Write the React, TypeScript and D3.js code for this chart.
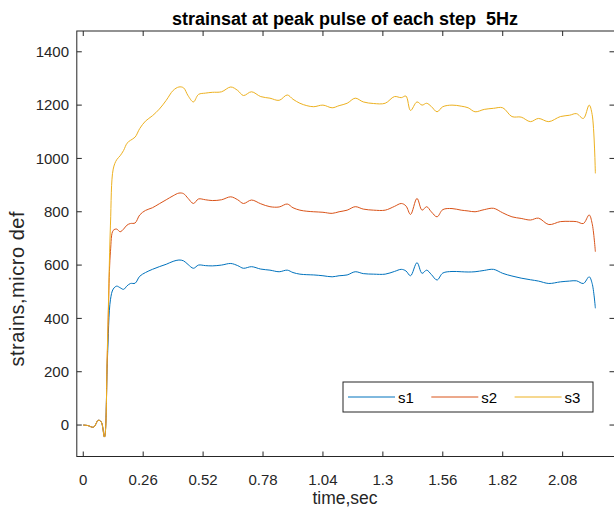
import React from "react";
import * as d3 from "d3";

const title = "strainsat at peak pulse of each step  5Hz";
const xLabel = "time,sec";
const yLabel = "strains,micro def";
const seriesNames = ["s1", "s2", "s3"];
const seriesColors = ["#0072BD", "#D95319", "#EDB120"];
const xTicks = [0, 0.26, 0.52, 0.78, 1.04, 1.3, 1.56, 1.82, 2.08];
const xTickLabels = ["0", "0.26", "0.52", "0.78", "1.04", "1.3", "1.56", "1.82", "2.08"];
const yTicks = [0, 200, 400, 600, 800, 1000, 1200, 1400];

const time = [
  0, 0.02, 0.045, 0.065, 0.078, 0.092, 0.105, 0.118, 0.13, 0.145, 0.16, 0.175, 0.19, 0.205, 0.225, 0.245,
  0.27, 0.3, 0.33, 0.36, 0.39, 0.415, 0.435, 0.455, 0.478, 0.5, 0.53, 0.56, 0.6, 0.64, 0.67, 0.695, 0.73,
  0.77, 0.81, 0.85, 0.885, 0.91, 0.94, 0.97, 1.0, 1.04, 1.08, 1.11, 1.145, 1.18, 1.215, 1.26, 1.31, 1.35,
  1.38, 1.4, 1.42, 1.448, 1.47, 1.49, 1.51, 1.535, 1.56, 1.6, 1.64, 1.67, 1.7, 1.74, 1.78, 1.82, 1.86, 1.9,
  1.94, 1.975, 2.02, 2.07, 2.11, 2.14, 2.17, 2.195, 2.208, 2.222,
];

const s1 = [
  0, -2, -8, 18, 12, -45, 250, 470, 510, 521, 515, 509, 522, 531, 532, 558,
  572, 584, 594, 603, 614, 619, 616, 602, 588, 600, 598, 597, 600, 606, 598, 588, 594,
  585, 581, 575, 581, 572, 566, 564, 563, 560, 556, 560, 563, 575, 568, 566, 566, 576,
  584, 578, 560, 609, 569, 581, 565, 544, 570, 576, 575, 574, 575, 580, 584, 569, 559, 551,
  545, 540, 531, 537, 540, 541, 531, 556, 531, 438,
];

const s2 = [
  0, -2, -8, 18, 12, -45, 280, 650, 730, 735, 725, 735, 750, 756, 758, 788,
  805, 815, 830, 845, 860, 870, 868, 850, 831, 848, 845, 842, 845, 856, 845, 831, 844,
  830, 819, 818, 829, 815, 806, 802, 800, 798, 794, 800, 806, 819, 810, 806, 806, 820,
  831, 822, 790, 850, 806, 819, 800, 781, 808, 812, 806, 803, 800, 808, 813, 796, 781, 775,
  769, 776, 752, 763, 764, 763, 756, 788, 756, 650,
];

const s3 = [
  0, -2, -8, 18, 12, -45, 300, 750, 960, 995, 1010, 1030, 1057, 1068, 1080, 1112,
  1140, 1160, 1185, 1218, 1255, 1268, 1265, 1235, 1212, 1240, 1245, 1248, 1250, 1268, 1255, 1236, 1250,
  1232, 1226, 1218, 1238, 1222, 1207, 1198, 1194, 1200, 1190, 1198, 1207, 1226, 1212, 1206, 1207, 1232,
  1228, 1234, 1180, 1212, 1200, 1207, 1195, 1175, 1194, 1200, 1196, 1190, 1175, 1184, 1188, 1190, 1157, 1155,
  1138, 1150, 1138, 1157, 1162, 1168, 1150, 1200, 1165, 944,
];

const seriesValues = [s1, s2, s3];

const W = 614;
const H = 508;
const left = 76.8;
const right = 614.5;
const top = 31;
const bottom = 456.5;
const axisColor = "#262626";
const font = "'Liberation Sans', Arial, Helvetica, sans-serif";

export default function App() {
  const x = d3.scaleLinear().domain([-0.028, 2.305]).range([left, right]);
  const y = d3.scaleLinear().domain([-118, 1478]).range([bottom, top]);
  const line = d3
    .line<number>()
    .x((_, i) => x(time[i]))
    .y((d) => y(d))
    .curve(d3.curveCatmullRom.alpha(0.5));

  const tickLen = 5;
  const legX = 343;
  const legY = 382;
  const legW = 250;
  const legH = 30;

  return (
    <svg
      width={W}
      height={H}
      style={{ position: "fixed", left: 0, top: 0, background: "#fff" }}
      fontFamily={font}
    >
      <rect x={0} y={0} width={W} height={H} fill="#fff" />
      <text
        x={345}
        y={24.5}
        textAnchor="middle"
        fontSize={18}
        fontWeight="bold"
        fill="#000"
        style={{ whiteSpace: "pre" }}
      >
        {title}
      </text>

      <g>
        {seriesValues.map((vals, k) => (
          <path
            key={k}
            d={line(vals) || ""}
            fill="none"
            stroke={seriesColors[k]}
            strokeWidth={1}
            strokeLinejoin="round"
          />
        ))}
      </g>

      <rect
        x={left}
        y={top}
        width={right - left}
        height={bottom - top}
        fill="none"
        stroke={axisColor}
        strokeWidth={1}
      />
      {xTicks.map((t, i) => (
        <g key={"xt" + i}>
          <line x1={x(t)} x2={x(t)} y1={bottom} y2={bottom - tickLen} stroke={axisColor} />
          <line x1={x(t)} x2={x(t)} y1={top} y2={top + tickLen} stroke={axisColor} />
          <text x={x(t)} y={485} textAnchor="middle" fontSize={15} fill={axisColor}>
            {xTickLabels[i]}
          </text>
        </g>
      ))}
      {yTicks.map((v, i) => (
        <g key={"yt" + i}>
          <line x1={left} x2={left + tickLen} y1={y(v)} y2={y(v)} stroke={axisColor} />
          <line x1={right} x2={right - tickLen} y1={y(v)} y2={y(v)} stroke={axisColor} />
          <text x={69} y={y(v)} dy="0.35em" textAnchor="end" fontSize={15} fill={axisColor}>
            {v}
          </text>
        </g>
      ))}
      <text x={345} y={504} textAnchor="middle" fontSize={17.5} fill={axisColor}>
        {xLabel}
      </text>
      <text
        transform={`translate(24, 289) rotate(-90)`}
        textAnchor="middle"
        fontSize={20}
        fill={axisColor}
        textLength={155}
        lengthAdjust="spacing"
      >
        {yLabel}
      </text>

      <rect x={legX} y={legY} width={legW} height={legH} fill="#fff" stroke={axisColor} strokeWidth={1} />
      {seriesNames.map((name, k) => {
        const x0 = legX + 5 + k * 83.3;
        const cy = legY + legH / 2;
        return (
          <g key={"lg" + k}>
            <line x1={x0} x2={x0 + 47} y1={cy} y2={cy} stroke={seriesColors[k]} strokeWidth={1} />
            <text x={x0 + 50} y={cy + 5.5} fontSize={15} fill="#000">
              {name}
            </text>
          </g>
        );
      })}
    </svg>
  );
}
